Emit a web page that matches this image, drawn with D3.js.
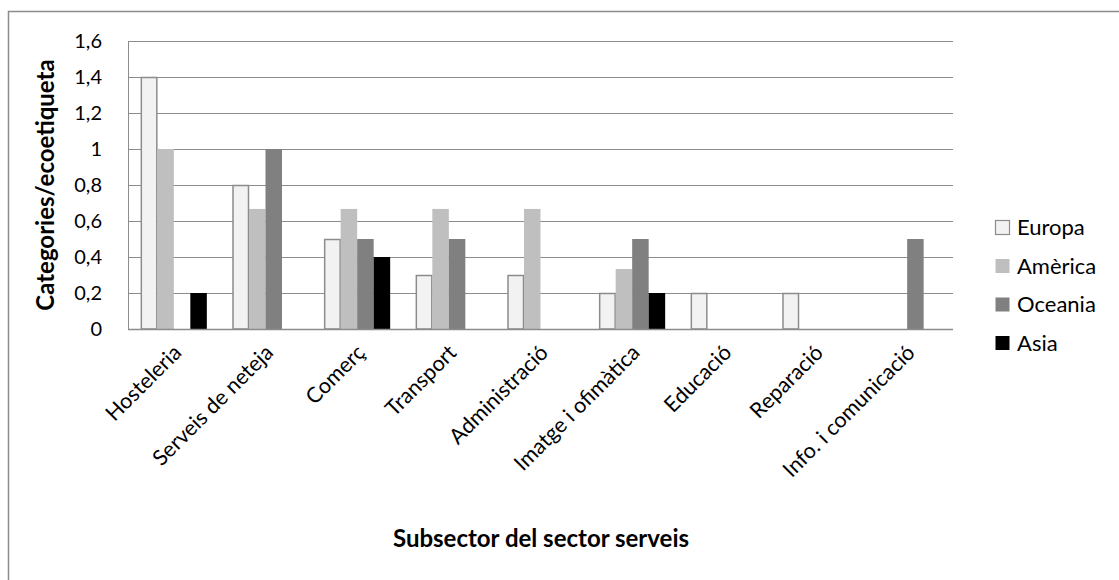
<!DOCTYPE html>
<html>
<head>
<meta charset="utf-8">
<script src="https://cdn.jsdelivr.net/npm/d3@7/dist/d3.min.js"></script>
<style>
  html, body { margin: 0; padding: 0; background: #fff; }
  svg { display: block; font-family: Lato, "Open Sans", sans-serif; }
</style>
</head>
<body>
<svg id="chart" width="1119" height="580"></svg>
<script>
const categories = ["Hosteleria", "Serveis de neteja", "Comerç", "Transport", "Administració",
  "Imatge i ofimàtica", "Educació", "Reparació", "Info. i comunicació"];
const seriesNames = ["Europa", "Amèrica", "Oceania", "Asia"];
const europa  = [1.4, 0.8, 0.5, 0.3, 0.3, 0.2, 0.2, 0.2, 0];
const america = [1.0, 0.667, 0.667, 0.667, 0.667, 0.333, 0, 0, 0];
const oceania = [0, 1.0, 0.5, 0.5, 0, 0.5, 0, 0, 0.5];
const asia    = [0.2, 0, 0.4, 0, 0, 0.2, 0, 0, 0];
const yTicks = [0, 0.2, 0.4, 0.6, 0.8, 1, 1.2, 1.4, 1.6];
const yTitle = "Categories/ecoetiqueta";
const xTitle = "Subsector del sector serveis";

const seriesValues = [europa, america, oceania, asia];
const fills = ["#f2f2f2", "#bfbfbf", "#808080", "#000000"];
const strokes = ["#8c8c8c", "none", "none", "none"];

const svg = d3.select("#chart");
const m = {left: 128, right: 953, top: 41, bottom: 329};

// outer border
svg.append("rect").attr("x", 8.5).attr("y", 11.5).attr("width", 1300).attr("height", 800)
  .attr("fill", "none").attr("stroke", "#8c8c8c").attr("stroke-width", 1.5);

const x = d3.scaleBand().domain(categories).range([m.left, m.right]).paddingInner(0).paddingOuter(0);
const y = d3.scaleLinear().domain([0, 1.6]).range([m.bottom, m.top]);
const groupW = x.bandwidth() * 0.72;
const xs = d3.scaleBand().domain(seriesNames).range([0, groupW]);

// gridlines
const yAxis = d3.axisLeft(y).tickValues(yTicks)
  .tickFormat(d => d3.format(".1~f")(d).replace(".", ","))
  .tickSize(-(m.right - m.left)).tickPadding(26);
const gy = svg.append("g").attr("transform", `translate(${m.left},0)`).call(yAxis);
gy.select(".domain").attr("stroke", "#8c8c8c");
gy.selectAll(".tick line").attr("stroke", "#8c8c8c").attr("stroke-width", 1.2);
gy.selectAll(".tick text").attr("font-size", 20).attr("fill", "#000")
  .attr("font-family", "Lato, sans-serif");

// bars
const data = [];
categories.forEach((c, i) => seriesNames.forEach((s, j) => {
  data.push({cat: c, ser: s, j, v: seriesValues[j][i]});
}));
svg.append("g").selectAll("rect").data(data.filter(d => d.v > 0)).join("rect")
  .attr("x", d => x(d.cat) + (x.bandwidth() - groupW) / 2 + xs(d.ser) + (d.j === 0 ? 0.5 : 0))
  .attr("y", d => y(d.v) + (d.j === 0 ? 0.5 : 0))
  .attr("width", d => xs.bandwidth() - (d.j === 0 ? 1 : 0))
  .attr("height", d => y(0) - y(d.v) - (d.j === 0 ? 0.5 : 0))
  .attr("fill", d => fills[d.j])
  .attr("stroke", d => strokes[d.j]).attr("stroke-width", 1.5);

// x axis line and labels
svg.append("line").attr("x1", m.left).attr("x2", m.right).attr("y1", m.bottom + 0.5).attr("y2", m.bottom + 0.5)
  .attr("stroke", "#8c8c8c").attr("stroke-width", 1.5);
const xAxis = d3.axisBottom(x).tickSize(0).tickPadding(0);
const gx = svg.append("g").attr("transform", `translate(0,${m.bottom})`).call(xAxis);
gx.select(".domain").remove();
gx.selectAll(".tick text")
  .attr("font-size", 21.5).attr("fill", "#000").attr("font-family", "Lato, sans-serif")
  .attr("text-anchor", "end").attr("dy", 0)
  .attr("transform", "translate(9,25) rotate(-45)");

// axis titles
svg.append("text").attr("transform", `translate(54,${(m.top + m.bottom) / 2}) rotate(-90)`)
  .attr("text-anchor", "middle").attr("font-size", 24).attr("font-weight", "bold")
  .text(yTitle);
svg.append("text").attr("x", 541).attr("y", 547).attr("text-anchor", "middle")
  .attr("font-size", 24).attr("font-weight", "bold").text(xTitle);

// legend
const lg = svg.append("g").selectAll("g").data(seriesNames).join("g")
  .attr("transform", (d, i) => `translate(995,${220 + i * 38.5})`);
lg.append("rect").attr("x", 0.5).attr("y", 0.5).attr("width", 14).attr("height", 14)
  .attr("fill", (d, i) => fills[i]).attr("stroke", (d, i) => strokes[i]).attr("stroke-width", 1.2);
lg.append("text").attr("x", 22).attr("y", 15).attr("font-size", 22).text(d => d);
</script>
</body>
</html>
